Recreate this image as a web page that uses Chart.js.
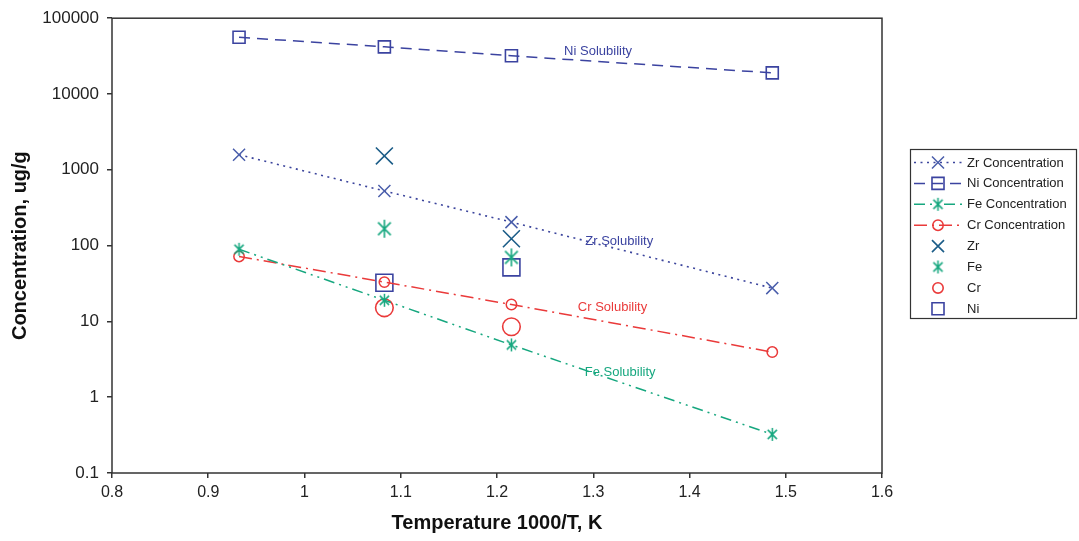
<!DOCTYPE html>
<html>
<head>
<meta charset="utf-8">
<script src="https://cdn.jsdelivr.net/npm/chart.js@4"></script>
<style>
  html, body { margin: 0; padding: 0; background: #ffffff; }
  #wrap { width: 1079px; height: 541px; position: relative; }
</style>
</head>
<body>
<div id="wrap"><canvas id="c"></canvas></div>
<script>
// ---- data ----
const tempX = [0.932, 1.083, 1.215, 1.486];          // 1000/T for 800, 650, 550, 400 C
const zrConc = [1580, 526, 204, 27.5];
const niConc = [56000, 41900, 31900, 19000];
const feConc = [89.5, 19, 4.9, 0.323];
const crConc = [71.9, 33, 16.7, 3.94];

const measX = [1.083, 1.215];
const zrMeas = [1524, 123];
const feMeas = [167, 69.8];
const crMeas = [15.1, 8.5];
const niMeas = [32.3, 51.6];

const xTickValues = [0.8, 0.9, 1.0, 1.1, 1.2, 1.3, 1.4, 1.5, 1.6];
const xTickLabels = ['0.8', '0.9', '1', '1.1', '1.2', '1.3', '1.4', '1.5', '1.6'];
const yTickValues = [0.1, 1, 10, 100, 1000, 10000, 100000];
const yTickLabels = ['0.1', '1', '10', '100', '1000', '10000', '100000'];

const solubilityNames = ['Ni Solubility', 'Zr Solubility', 'Cr Solubility', 'Fe Solubility'];
const solubilityX = [1.305, 1.327, 1.320, 1.328];
const solubilityY = [36500, 113, 15.2, 2.14];

const xTitle = 'Temperature 1000/T, K';
const yTitle = 'Concentration, ug/g';

// ---- styles ----
const FONT = "'Liberation Sans', Arial, sans-serif";
const C_ZRLINE = '#3b449c';
const C_ZRPT = '#4a5eab';
const C_ZR = '#1c5d88';
const C_NI = '#3b43a0';
const C_FE = '#16a77f';
const C_CR = '#ea3a3a';
const solubilityColors = [C_NI, C_NI, C_CR, C_FE];

function asterisk(span, color, lw) {
  const s = Math.ceil(span + 4);
  const cv = document.createElement('canvas');
  cv.width = s; cv.height = s;
  const g = cv.getContext('2d');
  const c = s / 2, h = span / 2, d = h * Math.SQRT1_2;
  g.strokeStyle = color; g.lineWidth = lw; g.lineCap = 'butt';
  g.beginPath();
  g.moveTo(c, c - h); g.lineTo(c, c + h);
  g.moveTo(c - d, c - d); g.lineTo(c + d, c + d);
  g.moveTo(c - d, c + d); g.lineTo(c + d, c - d);
  g.stroke();
  return cv;
}
const feSmall = asterisk(13, C_FE, 1.5);
const feBig = asterisk(18, C_FE, 1.6);

const pts = (xs, ys) => xs.map((x, i) => ({ x: x, y: ys[i] }));

const datasets = [
  { label: 'Zr Concentration', data: pts(tempX, zrConc), showLine: true,
    borderColor: C_ZRLINE, borderWidth: 1.6, borderDash: [2, 4.5],
    pointStyle: 'crossRot', pointRadius: 8.5, pointBorderColor: C_ZRPT, pointBorderWidth: 1.5,
    pointBackgroundColor: 'rgba(0,0,0,0)' },
  { label: 'Ni Concentration', data: pts(tempX, niConc), showLine: true,
    borderColor: C_NI, borderWidth: 1.5, borderDash: [11, 7],
    pointStyle: 'rect', pointRadius: 8.5, pointBorderColor: C_NI, pointBorderWidth: 1.6,
    pointBackgroundColor: 'rgba(0,0,0,0)' },
  { label: 'Fe Concentration', data: pts(tempX, feConc), showLine: true,
    borderColor: C_FE, borderWidth: 1.5, borderDash: [11, 5, 2, 5, 2, 5],
    pointStyle: feSmall, pointRadius: 7, pointBorderColor: C_FE,
    pointBackgroundColor: 'rgba(0,0,0,0)' },
  { label: 'Cr Concentration', data: pts(tempX, crConc), showLine: true,
    borderColor: C_CR, borderWidth: 1.5, borderDash: [13, 5, 2, 5],
    pointStyle: 'circle', pointRadius: 5.2, pointBorderColor: C_CR, pointBorderWidth: 1.5,
    pointBackgroundColor: 'rgba(0,0,0,0)' },
  { label: 'Zr', data: pts(measX, zrMeas), showLine: false,
    borderColor: C_ZR, borderWidth: 1.6,
    pointStyle: 'crossRot', pointRadius: 12, pointBorderColor: C_ZR, pointBorderWidth: 1.6,
    pointBackgroundColor: 'rgba(0,0,0,0)', legendRadius: 8.5 },
  { label: 'Fe', data: pts(measX, feMeas), showLine: false,
    borderColor: C_FE,
    pointStyle: feBig, pointRadius: 9, pointBorderColor: C_FE,
    pointBackgroundColor: 'rgba(0,0,0,0)', legendStyle: feSmall },
  { label: 'Cr', data: pts(measX, crMeas), showLine: false,
    borderColor: C_CR,
    pointStyle: 'circle', pointRadius: 8.8, pointBorderColor: C_CR, pointBorderWidth: 1.6,
    pointBackgroundColor: 'rgba(0,0,0,0)', legendRadius: 5.2 },
  { label: 'Ni', data: pts(measX, niMeas), showLine: false,
    borderColor: C_NI,
    pointStyle: 'rect', pointRadius: 12, pointBorderColor: C_NI, pointBorderWidth: 1.6,
    pointBackgroundColor: 'rgba(0,0,0,0)', legendRadius: 8.5 }
];

const framePlugin = {
  id: 'frame',
  beforeDatasetsDraw(chart) {
    const { ctx, chartArea: a } = chart;
    ctx.save();
    ctx.strokeStyle = '#333333';
    ctx.lineWidth = 1.5;
    ctx.strokeRect(a.left, a.top, a.right - a.left, a.bottom - a.top);
    ctx.restore();
  }
};

const solubilityPlugin = {
  id: 'solubility',
  afterDatasetsDraw(chart) {
    const { ctx, scales } = chart;
    ctx.save();
    ctx.font = '13px ' + FONT;
    ctx.textAlign = 'center';
    ctx.textBaseline = 'middle';
    solubilityNames.forEach((t, i) => {
      ctx.fillStyle = solubilityColors[i];
      ctx.fillText(t, scales.x.getPixelForValue(solubilityX[i]), scales.y.getPixelForValue(solubilityY[i]));
    });
    ctx.restore();
  }
};

const legendPlugin = {
  id: 'customLegend',
  afterDraw(chart) {
    const { ctx } = chart;
    const bx = 910, by = 149, bw = 166, bh = 169;
    ctx.save();
    ctx.fillStyle = '#ffffff';
    ctx.fillRect(bx, by, bw, bh);
    ctx.strokeStyle = '#333333';
    ctx.lineWidth = 1.2;
    ctx.strokeRect(bx + 0.5, by + 0.5, bw, bh);
    ctx.font = '13px ' + FONT;
    ctx.textBaseline = 'middle';
    ctx.textAlign = 'left';
    chart.data.datasets.forEach((ds, i) => {
      const y = 162.5 + i * 20.9;
      const mx = 938;
      if (ds.showLine) {
        ctx.save();
        ctx.strokeStyle = ds.borderColor;
        ctx.lineWidth = ds.borderWidth;
        ctx.setLineDash(ds.borderDash || []);
        ctx.beginPath();
        ctx.moveTo(914, y); ctx.lineTo(963, y);
        ctx.stroke();
        ctx.restore();
      }
      ctx.save();
      ctx.strokeStyle = ds.pointBorderColor;
      ctx.fillStyle = 'rgba(0,0,0,0)';
      ctx.lineWidth = ds.pointBorderWidth || 1.5;
      ctx.setLineDash([]);
      Chart.helpers.drawPoint(ctx, {
        pointStyle: ds.legendStyle || ds.pointStyle,
        radius: ds.legendRadius || ds.pointRadius,
        rotation: 0,
        borderWidth: ds.pointBorderWidth || 1.5
      }, mx, y);
      ctx.restore();
      ctx.fillStyle = '#222222';
      ctx.fillText(ds.label, 967, y + 0.5);
    });
    ctx.restore();
  }
};

new Chart(document.getElementById('c'), {
  type: 'line',
  data: { datasets: datasets },
  options: {
    responsive: true,
    maintainAspectRatio: false,
    animation: false,
    events: [],
    layout: { padding: { top: 13, right: 197, left: 0, bottom: 0 } },
    plugins: { legend: { display: false }, tooltip: { enabled: false } },
    scales: {
      x: {
        type: 'linear',
        min: 0.8, max: 1.6,
        afterBuildTicks: (s) => { s.ticks = xTickValues.map(v => ({ value: v })); },
        afterFit: (s) => { s.height = 68; },
        ticks: {
          callback: (v) => { const i = xTickValues.findIndex(t => Math.abs(t - v) < 1e-9); return i >= 0 ? xTickLabels[i] : ''; },
          font: { family: FONT, size: 16 }, color: '#222222', padding: 5, maxRotation: 0, autoSkip: false
        },
        grid: { display: true, drawOnChartArea: false, drawTicks: true, tickLength: 5, color: '#333333', lineWidth: 1.5 },
        border: { display: false },
        title: { display: true, text: xTitle, font: { family: FONT, size: 20, weight: 'bold' }, color: '#111111', padding: { top: 0, bottom: 6 } }
      },
      y: {
        type: 'logarithmic',
        min: 0.1, max: 100000,
        afterBuildTicks: (s) => { s.ticks = yTickValues.map(v => ({ value: v })); },
        afterFit: (s) => { s.width = 112; },
        ticks: {
          callback: (v) => { const i = yTickValues.findIndex(t => Math.abs(t - v) / t < 1e-6); return i >= 0 ? yTickLabels[i] : ''; },
          font: { family: FONT, size: 17 }, color: '#222222', padding: 8, autoSkip: false
        },
        grid: { display: true, drawOnChartArea: false, drawTicks: true, tickLength: 5, color: '#333333', lineWidth: 1.5 },
        border: { display: false },
        title: { display: true, text: yTitle, font: { family: FONT, size: 20, weight: 'bold' }, color: '#111111', padding: { top: 8, bottom: 0 } }
      }
    }
  },
  plugins: [framePlugin, solubilityPlugin, legendPlugin]
});
</script>
</body>
</html>
